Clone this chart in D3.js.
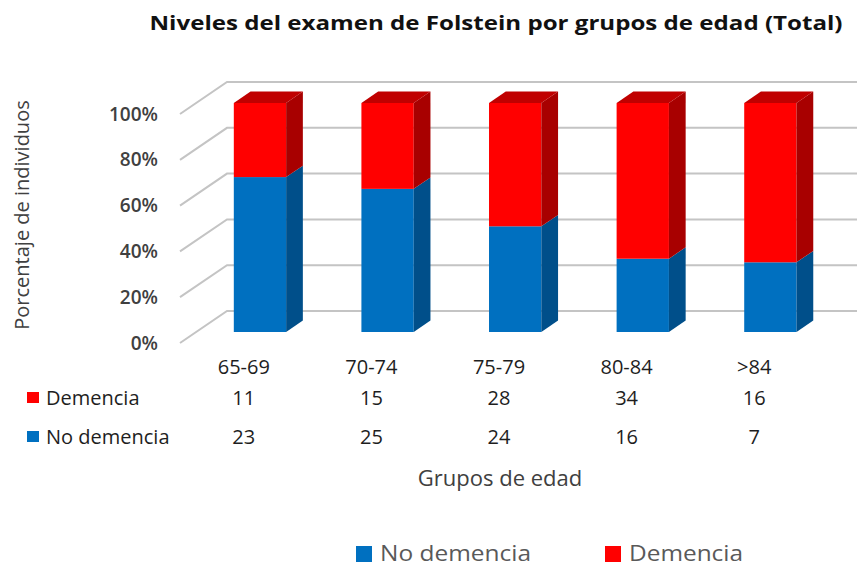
<!DOCTYPE html>
<html>
<head>
<meta charset="utf-8">
<script src="https://cdn.jsdelivr.net/npm/d3@7/dist/d3.min.js"></script>
<style>
  html, body { margin: 0; padding: 0; background: #fff; }
  svg { display: block; }
</style>
</head>
<body>
<svg id="chart" width="857" height="567"></svg>
<script>
// Age groups and counts per group
const categories = ["65-69", "70-74", "75-79", "80-84", ">84"];
const demencia   = [11, 15, 28, 34, 16];
const noDemencia = [23, 25, 24, 16, 7];
const yTicks     = [0, 0.2, 0.4, 0.6, 0.8, 1];

const seriesNames = ["No demencia", "Demencia"];
const colors = {
  "No demencia": { front: "#0070c0", side: "#004f8a", top: "#005a9e" },
  "Demencia":    { front: "#ff0000", side: "#a80000", top: "#c00000" }
};

const svg = d3.select("#chart");
const FONT = "'Open Sans', 'Liberation Sans', sans-serif";

// 3D projection: depth t in [0,1] shifts right/up
const DX = 47, DY = -32;
const x = d3.scaleBand().domain(categories).range([180, 818]).padding(0);
const y = d3.scaleLinear().domain([0, 1]).range([343, 114]);
const proj = (px, v, t) => [px + DX * t, y(v) + DY * t];

// Gridlines: floor-to-back diagonals plus back-wall horizontals
const grid = svg.append("g").attr("stroke", "#c4c4c4").attr("stroke-width", 2).attr("fill", "none");
yTicks.forEach(v => {
  const a = proj(x.range()[0], v, 0);
  const b = proj(x.range()[0], v, 1);
  const c = proj(x.range()[1] + 60, v, 1);
  grid.append("path").attr("d", `M${a}L${b}L${c}`);
});

// Y tick labels
svg.append("g").selectAll("text").data(yTicks).join("text")
  .attr("x", 158).attr("y", d => y(d)).attr("dy", "0.35em")
  .attr("text-anchor", "end")
  .attr("font-family", FONT).attr("font-size", 19).attr("font-weight", 600)
  .attr("fill", "#404040")
  .text(d => d3.format(".0%")(d));

// Stacked percentage data
const rows = categories.map((c, i) => ({ cat: c, "No demencia": noDemencia[i], "Demencia": demencia[i] }));
const stack = d3.stack().keys(seriesNames).offset(d3.stackOffsetExpand)(rows);

const T0 = 0.344, T1 = 0.70;
const barW = x.bandwidth() * 0.41;

const bars = svg.append("g");
categories.forEach((c, i) => {
  const left = x(c) + x.bandwidth() / 2 - barW / 2;
  const right = left + barW;
  stack.forEach((s, si) => {
    const [v0, v1] = s[i];
    const col = colors[s.key];
    const g = bars.append("g");
    // front face
    const f0 = proj(left, v1, T0), f1 = proj(right, v0, T0);
    g.append("rect").attr("x", f0[0]).attr("y", f0[1])
      .attr("width", f1[0] - f0[0]).attr("height", f1[1] - f0[1])
      .attr("fill", col.front);
    // right side face
    const s1 = proj(right, v1, T0), s2 = proj(right, v1, T1),
          s3 = proj(right, v0, T1), s4 = proj(right, v0, T0);
    g.append("path").attr("d", `M${s1}L${s2}L${s3}L${s4}Z`).attr("fill", col.side);
    // top face on the uppermost segment
    if (si === stack.length - 1) {
      const t1 = proj(left, v1, T0), t2 = proj(left, v1, T1),
            t3 = proj(right, v1, T1), t4 = proj(right, v1, T0);
      g.append("path").attr("d", `M${t1}L${t2}L${t3}L${t4}Z`).attr("fill", col.top);
    }
  });
});

// Data table under the plot
const colX = c => x(c) + x.bandwidth() / 2;
const table = svg.append("g").attr("font-family", FONT).attr("font-size", 20).attr("fill", "#1e1e1e");
table.selectAll("text.cat").data(categories).join("text")
  .attr("class", "cat").attr("x", colX).attr("y", 367).attr("dy", "0.35em")
  .attr("text-anchor", "middle").text(d => d);

const tableRows = [
  { name: "Demencia", values: demencia, color: colors["Demencia"].front, y: 398 },
  { name: "No demencia", values: noDemencia, color: colors["No demencia"].front, y: 437 }
];
tableRows.forEach(r => {
  table.append("rect").attr("x", 27).attr("y", r.y - 6).attr("width", 12).attr("height", 11).attr("fill", r.color);
  table.append("text").attr("x", 46).attr("y", r.y).attr("dy", "0.35em").text(r.name);
  table.selectAll(null).data(r.values).join("text")
    .attr("x", (d, i) => colX(categories[i])).attr("y", r.y).attr("dy", "0.35em")
    .attr("text-anchor", "middle").text(d => d);
});

// Axis titles
svg.append("text").attr("x", 500).attr("y", 478).attr("dy", "0.35em")
  .attr("text-anchor", "middle").attr("font-family", FONT).attr("font-size", 22)
  .attr("fill", "#404040").text("Grupos de edad");

svg.append("text").attr("transform", "translate(22,215) rotate(-90)").attr("dy", "0.35em")
  .attr("text-anchor", "middle").attr("font-family", FONT).attr("font-size", 20)
  .attr("fill", "#404040").text("Porcentaje de individuos");

// Title
svg.append("text").attr("x", 496).attr("y", 23).attr("dy", "0.35em")
  .attr("text-anchor", "middle").attr("font-family", FONT).attr("font-size", 20)
  .attr("font-weight", 700).attr("fill", "#111")
  .attr("textLength", 693).attr("lengthAdjust", "spacingAndGlyphs")
  .text("Niveles del examen de Folstein por grupos de edad (Total)");

// Legend
const legend = svg.append("g").attr("font-family", FONT).attr("font-size", 22).attr("fill", "#595959");
const legendItems = [
  { name: "No demencia", color: colors["No demencia"].front, x: 356, w: 151 },
  { name: "Demencia", color: colors["Demencia"].front, x: 605, w: 114 }
];
legendItems.forEach(it => {
  legend.append("rect").attr("x", it.x).attr("y", 546).attr("width", 16).attr("height", 16).attr("fill", it.color);
  legend.append("text").attr("x", it.x + 24).attr("y", 561)
    .attr("textLength", it.w).attr("lengthAdjust", "spacingAndGlyphs").text(it.name);
});
</script>
</body>
</html>
